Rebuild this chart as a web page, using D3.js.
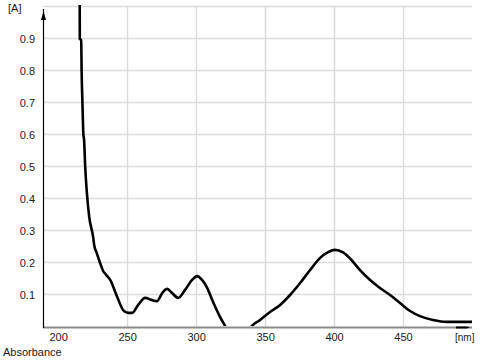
<!DOCTYPE html>
<html>
<head>
<meta charset="utf-8">
<script src="https://cdn.jsdelivr.net/npm/d3@7"></script>
<style>
  html, body { margin: 0; padding: 0; background: #fff; }
  svg { display: block; }
  text { font-family: "Liberation Sans", Arial, sans-serif; font-size: 11px; fill: #1a1a1a; }
</style>
</head>
<body>
<svg id="chart" width="482" height="362"></svg>
<script>
// Wavelength (nm) and absorbance (A)
const wavelength = [214.8, 215.6, 215.7, 216.7, 217.0, 217.6, 218.3, 218.8, 219.6, 220.8, 222.5, 225.4, 226.1, 228.0, 230.4, 232.6, 234.8, 237.7, 242.8, 247.1, 250.7, 253.6, 258.0, 263.0, 268.1, 271.7, 275.4, 279.0, 282.6, 287.0, 292.0, 297.1, 300.7, 304.3, 308.0, 312.3, 317.4, 321.0, 324.0, 330.0, 336.0, 339.1, 346.4, 353.6, 360.9, 368.1, 375.4, 382.6, 389.9, 395.7, 400.7, 406.5, 411.6, 418.8, 426.1, 433.3, 440.6, 447.8, 455.1, 462.3, 471.7, 481.9, 500.0];
const absorbance = [1.10, 1.02, 0.90, 0.897, 0.80, 0.70, 0.60, 0.584, 0.50, 0.42, 0.344, 0.28, 0.256, 0.231, 0.20, 0.175, 0.163, 0.147, 0.094, 0.053, 0.044, 0.044, 0.069, 0.091, 0.084, 0.081, 0.106, 0.119, 0.106, 0.091, 0.116, 0.147, 0.159, 0.147, 0.122, 0.078, 0.031, 0.003, -0.02, -0.04, -0.025, -0.003, 0.022, 0.047, 0.069, 0.10, 0.1375, 0.178, 0.216, 0.234, 0.241, 0.233, 0.214, 0.178, 0.147, 0.122, 0.10, 0.075, 0.05, 0.034, 0.022, 0.016, 0.016];
const xTicks = [200, 250, 300, 350, 400, 450];
const xGridTicks = [250, 300, 350, 400, 450];
const yTicks = [0.1, 0.2, 0.3, 0.4, 0.5, 0.6, 0.7, 0.8, 0.9];
const yGridTicks = [0.1, 0.2, 0.3, 0.4, 0.5, 0.6, 0.7, 0.8, 0.9, 1.0];

const svg = d3.select("#chart");
const pLeft = 43, pRight = 472, pTop = 7, pBottom = 327;

const x = d3.scaleLinear().domain([189, 500]).range([pLeft, pRight]);
const y = d3.scaleLinear().domain([0, 1]).range([pBottom, pTop]);

// Grid
const grid = svg.append("g");
grid.selectAll("line.h").data(yGridTicks).join("line")
  .attr("x1", pLeft).attr("x2", pRight)
  .attr("y1", d => Math.round(y(d)) - 0.5).attr("y2", d => Math.round(y(d)) - 0.5)
  .attr("stroke", "#dcdcdc").attr("stroke-width", 1.5);
grid.selectAll("line.v").data(xGridTicks).join("line")
  .attr("x1", d => Math.round(x(d)) + 0.5).attr("x2", d => Math.round(x(d)) + 0.5)
  .attr("y1", y(1) - 1).attr("y2", pBottom)
  .attr("stroke", "#dcdcdc").attr("stroke-width", 1.5);

// Clip for curve
svg.append("clipPath").attr("id", "clip").append("rect")
  .attr("x", pLeft).attr("y", pTop - 2).attr("width", pRight - pLeft).attr("height", pBottom - pTop + 1);

const pts = wavelength.map((w, i) => [w, absorbance[i]]);
const line = d3.line().x(d => x(d[0])).y(d => y(d[1])).curve(d3.curveMonotoneX);
svg.append("path").datum(pts)
  .attr("clip-path", "url(#clip)")
  .attr("d", line)
  .attr("fill", "none").attr("stroke", "#000").attr("stroke-width", 2.6)
  .attr("stroke-linejoin", "round");

// X axis (gray thick line)
const xAxis = d3.axisBottom(x).tickValues(xTicks).tickSize(0).tickPadding(6).tickFormat(d3.format("d"));
const gx = svg.append("g").attr("transform", `translate(0,${pBottom})`).call(xAxis);
gx.select(".domain").remove();
gx.selectAll("text").attr("font-family", null).attr("font-size", null).attr("fill", "#1a1a1a");
svg.append("line").attr("x1", pLeft).attr("x2", pRight).attr("y1", pBottom + 0.5).attr("y2", pBottom + 0.5)
  .attr("stroke", "#8a8a8a").attr("stroke-width", 2.2);
// x arrow
svg.append("path")
  .attr("d", `M${pRight - 16},${pBottom - 0.5} L${pRight - 5},${pBottom - 0.5} L${pRight - 2},${pBottom + 0.5} L${pRight - 5},${pBottom + 1.5} L${pRight - 16},${pBottom + 1.5} Z`)
  .attr("fill", "#000");

// Y axis
const yAxis = d3.axisLeft(y).tickValues(yTicks).tickSize(0).tickPadding(8).tickFormat(d3.format(".1f"));
const gy = svg.append("g").attr("transform", `translate(${pLeft},0)`).call(yAxis);
gy.select(".domain").remove();
gy.selectAll("text").attr("font-family", null).attr("font-size", null).attr("fill", "#1a1a1a");
svg.append("line").attr("x1", pLeft + 0.5).attr("x2", pLeft + 0.5).attr("y1", 9).attr("y2", pBottom + 1)
  .attr("stroke", "#000").attr("stroke-width", 1.2);
svg.append("path")
  .attr("d", `M${pLeft + 0.5},${11} L${pLeft + 3},${20} L${pLeft - 2},${20} Z`)
  .attr("fill", "#000");

// Unit labels
svg.append("text").attr("x", 8).attr("y", 12).text("[A]");
svg.append("text").attr("x", 455).attr("y", 341).style("font-size", "10px").text("[nm]");
svg.append("text").attr("x", 3).attr("y", 356).text("Absorbance");
</script>
</body>
</html>
